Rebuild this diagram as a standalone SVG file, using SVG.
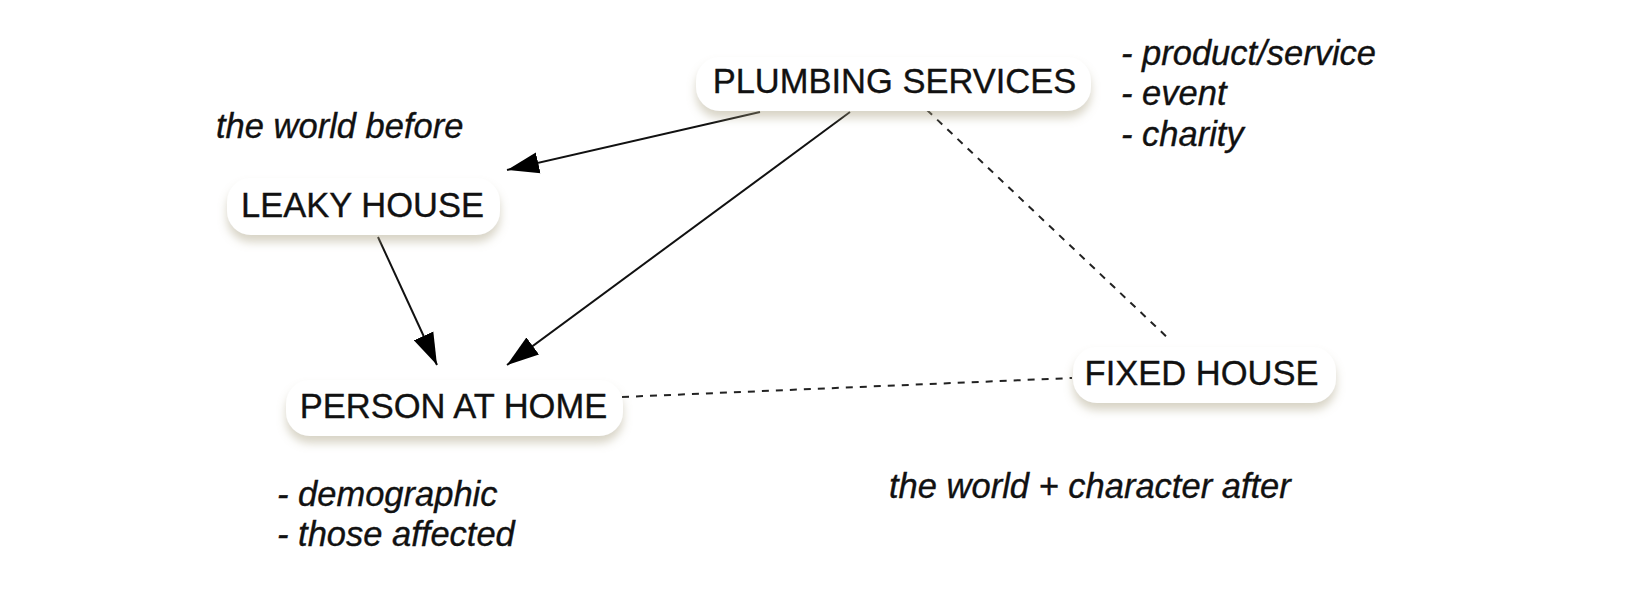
<svg xmlns="http://www.w3.org/2000/svg" width="1636" height="608" viewBox="0 0 1636 608">
<style>
.box{fill:#ffffff;filter:url(#sh)}
.lbl{font-family:"Liberation Sans",Arial,sans-serif;font-size:34.5px;fill:#111111;stroke:#111111;stroke-width:0.35;text-anchor:middle}
.note{font-family:"Liberation Sans",Arial,sans-serif;font-size:34.5px;font-style:italic;fill:#111111;stroke:#111111;stroke-width:0.35}
.solid{stroke:#111111;stroke-width:2;fill:none;marker-end:url(#ah)}
.dash{stroke:#222222;stroke-width:2;fill:none;stroke-dasharray:7 7}
</style>
<defs>
<filter id="sh" x="-10%" y="-30%" width="120%" height="180%">
<feDropShadow dx="0" dy="7" stdDeviation="5" flood-color="#a89f80" flood-opacity="0.45"/>
</filter>
<marker id="ah" markerUnits="userSpaceOnUse" markerWidth="32" markerHeight="22" viewBox="0 0 30 20" refX="30" refY="10" orient="auto">
<path d="M0,0 L30,10 L0,20 z" fill="#000000"/>
</marker>
</defs>
<rect width="1636" height="608" fill="#ffffff"/>
<g id="connectors">
<line class="solid" x1="760" y1="112" x2="507" y2="170"/>
<line class="solid" x1="850" y1="112" x2="507" y2="365"/>
<line class="solid" x1="378" y1="237" x2="437" y2="365"/>
<line class="dash" x1="927" y1="110" x2="1170" y2="340"/>
<line class="dash" x1="622" y1="397" x2="1072" y2="378"/>
</g>
<g id="plumbing-services">
<rect class="box" x="696" y="57" width="395" height="54" rx="24"/>
<text class="lbl" x="894.5" y="93">PLUMBING SERVICES</text>
</g>
<g id="leaky-house">
<rect class="box" x="227" y="178" width="273" height="57" rx="24"/>
<text class="lbl" x="362.5" y="217">LEAKY HOUSE</text>
</g>
<g id="person-at-home">
<rect class="box" x="286" y="380" width="337" height="56" rx="24"/>
<text class="lbl" x="453.5" y="418">PERSON AT HOME</text>
</g>
<g id="fixed-house">
<rect class="box" x="1073" y="347" width="263" height="56" rx="24"/>
<text class="lbl" x="1201.5" y="385">FIXED HOUSE</text>
</g>
<g id="notes">
<text class="note" x="1121" y="65">- product/service</text>
<text class="note" x="1121" y="105">- event</text>
<text class="note" x="1121" y="146">- charity</text>
<text class="note" x="216" y="138">the world before</text>
<text class="note" x="277" y="506">- demographic</text>
<text class="note" x="277" y="546">- those affected</text>
<text class="note" x="889" y="498">the world + character after</text>
</g>
</svg>
